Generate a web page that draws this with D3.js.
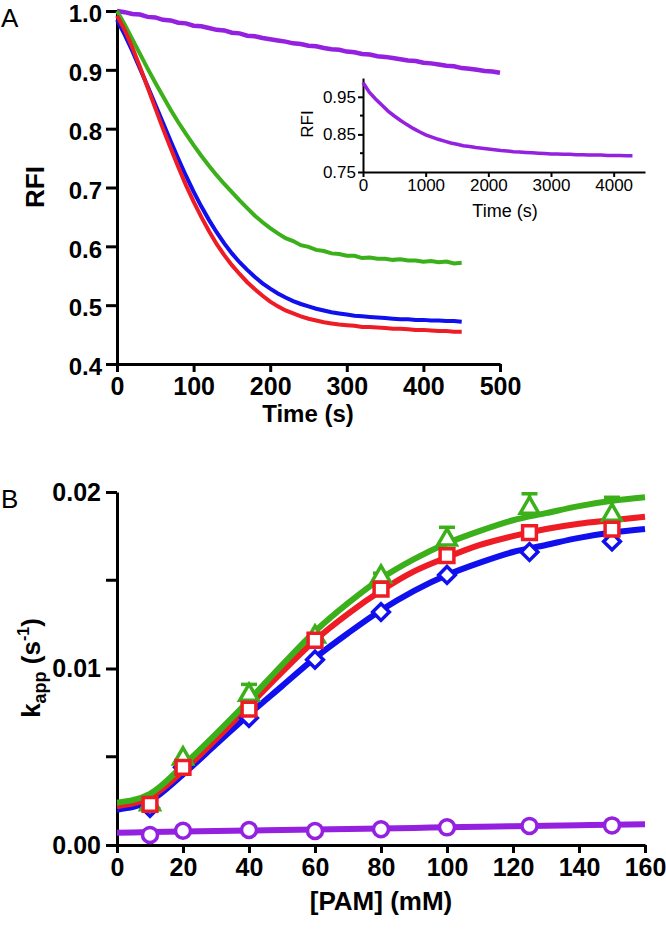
<!DOCTYPE html>
<html><head><meta charset="utf-8">
<script src="https://cdn.jsdelivr.net/npm/d3@7"></script>
<style>
html,body{margin:0;padding:0;background:#fff;}
text{font-family:"Liberation Sans",Arial,Helvetica,sans-serif;}
</style></head>
<body><svg id="c" width="666" height="929"></svg>
<script>
// ---------- Panel A data ----------
const timeA = [0,10,20,30,40,50,60,70,80,90,100,110,120,130,140,150,160,170,180,190,200,210,220,230,240,250,260,270,280,290,300,310,320,330,340,350,360,370,380,390,400,410,420,430,440,450];
const redA = [0.992,0.968,0.938,0.905,0.870,0.835,0.800,0.767,0.735,0.704,0.676,0.650,0.626,0.604,0.585,0.568,0.553,0.539,0.527,0.516,0.506,0.498,0.491,0.486,0.481,0.477,0.474,0.471,0.469,0.467,0.466,0.465,0.463,0.463,0.462,0.461,0.460,0.460,0.459,0.458,0.458,0.457,0.456,0.456,0.455,0.455];
const blueA = [0.985,0.960,0.932,0.902,0.872,0.841,0.810,0.779,0.749,0.720,0.693,0.668,0.645,0.624,0.605,0.588,0.573,0.560,0.548,0.537,0.528,0.520,0.513,0.507,0.502,0.498,0.494,0.491,0.488,0.486,0.484,0.482,0.481,0.480,0.479,0.478,0.477,0.476,0.476,0.475,0.475,0.474,0.474,0.473,0.473,0.472];
const greenA = [1.000,0.977,0.952,0.927,0.902,0.878,0.855,0.832,0.811,0.791,0.772,0.754,0.737,0.721,0.706,0.692,0.678,0.665,0.652,0.641,0.631,0.622,0.614,0.609,0.602,0.599,0.594,0.592,0.588,0.587,0.584,0.584,0.580,0.581,0.579,0.579,0.577,0.578,0.576,0.576,0.574,0.575,0.573,0.574,0.571,0.572];
const timeP = [0,10,20,30,40,50,60,70,80,90,100,110,120,130,140,150,160,170,180,190,200,210,220,230,240,250,260,270,280,290,300,310,320,330,340,350,360,370,380,390,400,410,420,430,440,450,460,470,480,490,500];
const purpleA = [1.000,0.998,0.995,0.994,0.990,0.989,0.985,0.984,0.980,0.979,0.975,0.974,0.971,0.968,0.967,0.963,0.962,0.958,0.957,0.954,0.952,0.950,0.948,0.945,0.944,0.941,0.940,0.937,0.935,0.934,0.931,0.930,0.927,0.926,0.923,0.922,0.920,0.918,0.916,0.915,0.912,0.911,0.909,0.907,0.906,0.903,0.902,0.900,0.898,0.897,0.895];
const ticksAx = [0,100,200,300,400,500];
const ticksAy = [0.4,0.5,0.6,0.7,0.8,0.9,1.0];
// ---------- Inset data ----------
const timeI = [0,100,200,300,400,500,600,700,800,900,1000,1100,1200,1300,1400,1500,1600,1700,1800,1900,2000,2100,2200,2300,2400,2500,2600,2700,2800,2900,3000,3100,3200,3300,3400,3500,3600,3700,3800,3900,4000,4100,4200,4300];
const purpleI = [0.988,0.962,0.944,0.928,0.912,0.899,0.887,0.876,0.866,0.857,0.849,0.843,0.837,0.832,0.827,0.824,0.820,0.818,0.815,0.813,0.811,0.809,0.807,0.806,0.804,0.803,0.802,0.801,0.800,0.799,0.798,0.798,0.797,0.797,0.796,0.796,0.795,0.795,0.795,0.794,0.794,0.794,0.793,0.793];
const ticksIx = [0,1000,2000,3000,4000];
const ticksIy = [0.75,0.85,0.95];
const minorIy = [0.80,0.90];
// ---------- Panel B data ----------
const pam = [10,20,40,60,80,100,125,150];
const blueB = [0.0021,0.0044,0.0072,0.0105,0.0132,0.0153,0.0166,0.0172];
const redB = [0.0023,0.0044,0.0077,0.0116,0.0145,0.0164,0.0177,0.0179];
const greenB = [0.0023,0.0049,0.0085,0.0118,0.0152,0.0173,0.0191,0.0187];
const greenErr = [0,0,0.0006,0,0.0002,0.0007,0.0008,0.0010];
const purpleB = [0.00057,0.00081,0.00085,0.00079,0.00089,0.00100,0.00108,0.00111];
const pamFit = [0,10,20,30,40,50,60,70,80,90,100,110,120,130,140,150,160];
const blueFit = [0.0020,0.0025,0.0040,0.0057,0.0074,0.0090,0.0106,0.0120,0.0133,0.0144,0.0153,0.0160,0.0166,0.0170,0.0174,0.0177,0.0179];
const redFit = [0.0022,0.0027,0.0042,0.0060,0.0079,0.0098,0.0116,0.0131,0.0144,0.0155,0.0163,0.0170,0.0175,0.0179,0.0182,0.0184,0.0186];
const greenFit = [0.0024,0.0029,0.0045,0.0063,0.0082,0.0102,0.0121,0.0137,0.0151,0.0162,0.0171,0.0178,0.0184,0.0188,0.0192,0.0195,0.0197];
const purpleFit = [0.00070,0.00073,0.00076,0.00079,0.00082,0.00085,0.00088,0.00091,0.00094,0.00097,0.00100,0.00103,0.00106,0.00109,0.00112,0.00115,0.00117];
const ticksBx = [0,20,40,60,80,100,120,140,160];
const ticksBy = [0,0.01,0.02];
const minorBy = [0.005,0.015];

const C = {red:"#ee1c24", blue:"#1010ee", green:"#3cb01a", purple:"#9420e0"};
const TICKFS = 25;

const svg = d3.select("#c");

function styleAxis(a, w, fs, bold){
  a.select(".domain").attr("stroke","#000").attr("stroke-width",w);
  a.selectAll(".tick line").attr("stroke","#000").attr("stroke-width",w);
  a.selectAll(".tick text").attr("font-size",fs).attr("font-weight",bold?"bold":"normal").attr("fill","#000");
}

// ---------- Panel A ----------
const xA = d3.scaleLinear().domain([0,500]).range([117,500]);
const yA = d3.scaleLinear().domain([0.4,1.0]).range([364,11]);
const gA = svg.append("g");
const axA = gA.append("g").attr("transform","translate(0,364)")
  .call(d3.axisBottom(xA).tickValues(ticksAx).tickFormat(d3.format("d")).tickSize(8).tickPadding(5).tickSizeOuter(0));
const ayA = gA.append("g").attr("transform","translate(117,0)")
  .call(d3.axisLeft(yA).tickValues(ticksAy).tickFormat(d3.format(".1f")).tickSize(11).tickPadding(4).tickSizeOuter(0));
styleAxis(axA,3,TICKFS,true); styleAxis(ayA,3,24,true);
ayA.selectAll(".tick text").attr("dy","0.45em");
const lineA = (xs)=>d3.line().x((d,i)=>xA(xs[i])).y(d=>yA(d));
gA.append("path").datum(purpleA).attr("d",lineA(timeP)).attr("fill","none").attr("stroke",C.purple).attr("stroke-width",4.5);
gA.append("path").datum(greenA).attr("d",lineA(timeA)).attr("fill","none").attr("stroke",C.green).attr("stroke-width",4);
gA.append("path").datum(blueA).attr("d",lineA(timeA)).attr("fill","none").attr("stroke",C.blue).attr("stroke-width",4);
gA.append("path").datum(redA).attr("d",lineA(timeA)).attr("fill","none").attr("stroke",C.red).attr("stroke-width",4);
gA.append("text").attr("x",308).attr("y",422).attr("text-anchor","middle").attr("font-size",24).attr("font-weight","bold").text("Time (s)");
gA.append("text").attr("transform","translate(44,187) rotate(-90)").attr("text-anchor","middle").attr("font-size",26).attr("font-weight","bold").text("RFI");
svg.append("text").attr("x",1).attr("y",27).attr("font-size",26).text("A");

// ---------- Inset ----------
const xI = d3.scaleLinear().domain([0,4500]).range([363,645]);
const yI = d3.scaleLinear().domain([0.75,1.0]).range([172,78]);
const axI = svg.append("g").attr("transform","translate(0,172)")
  .call(d3.axisBottom(xI).tickValues(ticksIx).tickFormat(d3.format("d")).tickSize(5).tickPadding(2).tickSizeOuter(0));
const ayI = svg.append("g").attr("transform","translate(363,0)")
  .call(d3.axisLeft(yI).tickValues(ticksIy).tickFormat(d3.format(".2f")).tickSize(5).tickPadding(2).tickSizeOuter(0));
styleAxis(axI,2,17,false); styleAxis(ayI,2,17,false);
svg.append("g").selectAll("line").data(minorIy).join("line")
  .attr("x1",360).attr("x2",363).attr("y1",d=>yI(d)).attr("y2",d=>yI(d)).attr("stroke","#000").attr("stroke-width",2);
svg.append("path").datum(purpleI).attr("d",d3.line().x((d,i)=>xI(timeI[i])).y(d=>yI(d)))
  .attr("fill","none").attr("stroke",C.purple).attr("stroke-width",3.5);
svg.append("text").attr("x",505).attr("y",217).attr("text-anchor","middle").attr("font-size",18).text("Time (s)");
svg.append("text").attr("transform","translate(313,124) rotate(-90)").attr("text-anchor","middle").attr("font-size",17).text("RFI");

// ---------- Panel B ----------
const xB = d3.scaleLinear().domain([0,160]).range([117,645]);
const yB = d3.scaleLinear().domain([0,0.02]).range([845,492]);
const gB = svg.append("g");
const axB = gB.append("g").attr("transform","translate(0,845)")
  .call(d3.axisBottom(xB).tickValues(ticksBx).tickFormat(d3.format("d")).tickSize(8).tickPadding(5).tickSizeOuter(0));
const ayB = gB.append("g").attr("transform","translate(117,0)")
  .call(d3.axisLeft(yB).tickValues(ticksBy).tickFormat(d=>d===0?"0.00":d3.format(".2")(d)).tickSize(11).tickPadding(5).tickSizeOuter(0));
styleAxis(axB,3,TICKFS,true); styleAxis(ayB,3,TICKFS,true);
gB.append("g").selectAll("line").data(minorBy).join("line")
  .attr("x1",106).attr("x2",117).attr("y1",d=>yB(d)).attr("y2",d=>yB(d)).attr("stroke","#000").attr("stroke-width",3);
const lineB = d3.line().curve(d3.curveMonotoneX).x((d,i)=>xB(pamFit[i])).y(d=>yB(d));
[[purpleFit,C.purple],[blueFit,C.blue],[redFit,C.red],[greenFit,C.green]].forEach(([arr,col])=>{
  gB.append("path").datum(arr).attr("d",lineB).attr("fill","none").attr("stroke",col).attr("stroke-width",6);
});
// blue diamonds
gB.append("g").selectAll("path").data(blueB).join("path")
  .attr("d",d3.symbol(d3.symbolSquare,140)())
  .attr("transform",(d,i)=>`translate(${xB(pam[i])},${yB(d)}) rotate(45)`)
  .attr("fill","#fff").attr("stroke",C.blue).attr("stroke-width",3.5);
// green triangles with error bars
const gE = gB.append("g");
pam.forEach((p,i)=>{
  if(greenErr[i]>0){
    const x=xB(p), y0=yB(greenB[i]), y1=yB(greenB[i]+greenErr[i]);
    gE.append("line").attr("x1",x).attr("x2",x).attr("y1",y0).attr("y2",y1).attr("stroke",C.green).attr("stroke-width",3.5);
    gE.append("line").attr("x1",x-8).attr("x2",x+8).attr("y1",y1).attr("y2",y1).attr("stroke",C.green).attr("stroke-width",3.5);
  }
});
gB.append("g").selectAll("path").data(greenB).join("path")
  .attr("d",d3.symbol(d3.symbolTriangle,150)())
  .attr("transform",(d,i)=>`translate(${xB(pam[i])},${yB(d)})`)
  .attr("fill","#fff").attr("stroke",C.green).attr("stroke-width",3.5);
// red squares
gB.append("g").selectAll("path").data(redB).join("path")
  .attr("d",d3.symbol(d3.symbolSquare,190)())
  .attr("transform",(d,i)=>`translate(${xB(pam[i])},${yB(d)})`)
  .attr("fill","#fff").attr("stroke",C.red).attr("stroke-width",3.5);
// purple circles
gB.append("g").selectAll("circle").data(purpleB).join("circle")
  .attr("cx",(d,i)=>xB(pam[i])).attr("cy",d=>yB(d)).attr("r",7.5)
  .attr("fill","#fff").attr("stroke",C.purple).attr("stroke-width",3.5);
gB.append("text").attr("x",381).attr("y",910).attr("text-anchor","middle").attr("font-size",26).attr("font-weight","bold").text("[PAM] (mM)");
const yl = gB.append("text").attr("transform","translate(40,668) rotate(-90)").attr("text-anchor","middle").attr("font-size",26).attr("font-weight","bold");
yl.append("tspan").text("k");
yl.append("tspan").attr("font-size",18).attr("dy",6).text("app");
yl.append("tspan").attr("dy",-6).text(" (s");
yl.append("tspan").attr("font-size",16).attr("dy",-11).text("-1");
yl.append("tspan").attr("dy",11).text(")");
svg.append("text").attr("x",1).attr("y",508).attr("font-size",26).text("B");
</script></body></html>
